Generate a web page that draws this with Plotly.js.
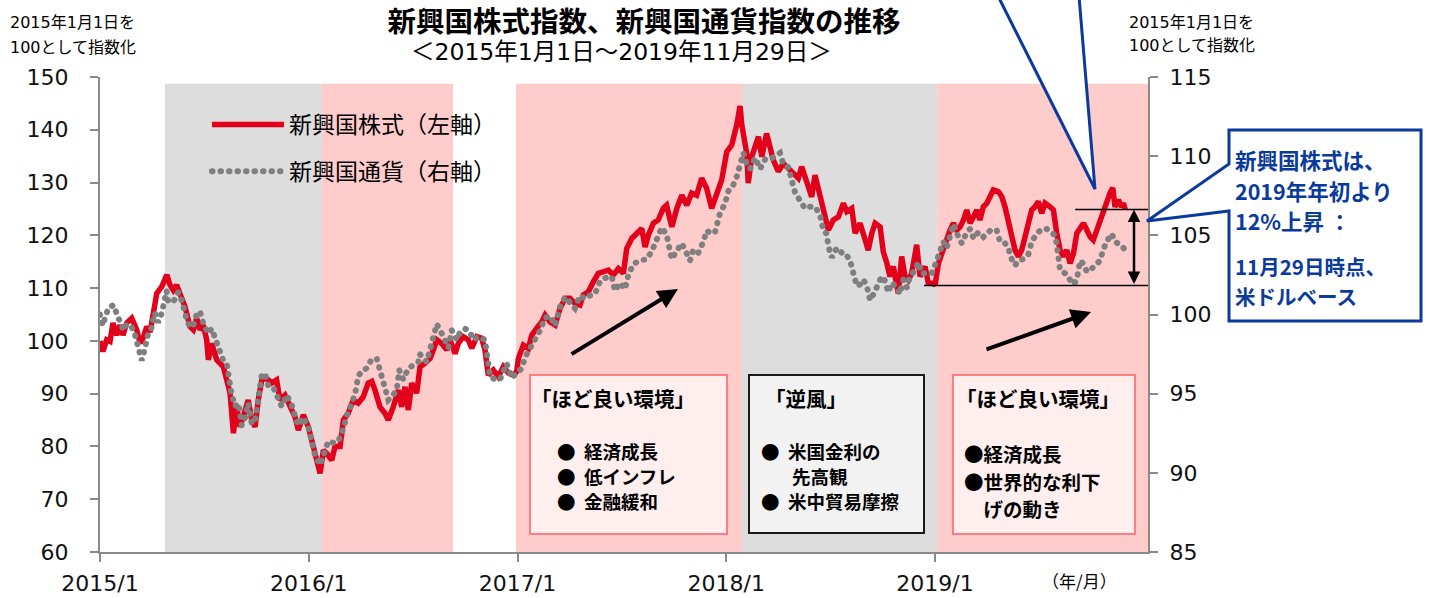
<!DOCTYPE html>
<html>
<head>
<meta charset="utf-8">
<script src="https://cdn.plot.ly/plotly-3.0.1.min.js"></script>
<style>
  html, body { margin: 0; padding: 0; background: #fff; }
  #chart { width: 1431px; height: 598px; }
</style>
</head>
<body>
<div id="chart"></div>
<script>
// ---------------- DATA ----------------
// time in decimal years (2015.0 = 2015/1/1)
const equityT = [
 2015.000,2015.014,2015.032,2015.048,2015.062,2015.080,2015.096,2015.110,2015.128,2015.152,
 2015.176,2015.192,2015.206,2015.224,2015.240,2015.255,2015.272,2015.296,2015.320,2015.335,
 2015.351,2015.367,2015.391,2015.407,2015.431,2015.447,2015.463,2015.479,2015.495,2015.511,
 2015.519,2015.535,2015.559,2015.575,2015.591,2015.607,2015.623,2015.639,2015.655,2015.671,
 2015.686,2015.710,2015.727,2015.743,2015.758,2015.775,2015.798,2015.823,2015.846,2015.862,
 2015.886,2015.910,2015.934,2015.950,2015.974,2015.998,2016.014,2016.030,2016.054,2016.070,
 2016.086,2016.110,2016.126,2016.150,2016.166,2016.189,2016.213,2016.237,2016.261,2016.285,
 2016.302,2016.317,2016.341,2016.365,2016.381,2016.405,2016.429,2016.445,2016.461,2016.477,
 2016.493,2016.517,2016.533,2016.557,2016.581,2016.597,2016.613,2016.637,2016.661,2016.677,
 2016.701,2016.716,2016.740,2016.764,2016.781,2016.805,2016.828,2016.844,2016.860,2016.884,
 2016.908,2016.932,2016.956,2016.980,2016.996,2017.004,2017.028,2017.052,2017.068,2017.092,
 2017.116,2017.132,2017.156,2017.180,2017.204,2017.228,2017.251,2017.275,2017.299,2017.315,
 2017.339,2017.363,2017.387,2017.411,2017.435,2017.459,2017.483,2017.507,2017.523,2017.547,
 2017.571,2017.595,2017.611,2017.627,2017.651,2017.674,2017.698,2017.714,2017.739,2017.763,
 2017.787,2017.811,2017.834,2017.858,2017.882,2017.906,2017.930,2017.954,2017.978,2018.002,
 2018.026,2018.050,2018.066,2018.074,2018.098,2018.105,2018.122,2018.138,2018.154,2018.170,
 2018.193,2018.209,2018.225,2018.249,2018.273,2018.297,2018.321,2018.345,2018.361,2018.385,
 2018.409,2018.425,2018.441,2018.465,2018.489,2018.513,2018.537,2018.561,2018.577,2018.601,
 2018.617,2018.641,2018.665,2018.680,2018.697,2018.713,2018.737,2018.752,2018.769,2018.784,
 2018.800,2018.824,2018.840,2018.856,2018.872,2018.888,2018.912,2018.928,2018.952,2018.968,
 2018.992,2019.000,2019.016,2019.032,2019.056,2019.072,2019.088,2019.104,2019.120,2019.136,
 2019.152,2019.168,2019.184,2019.200,2019.215,2019.231,2019.248,2019.263,2019.279,2019.303,
 2019.320,2019.335,2019.359,2019.383,2019.399,2019.415,2019.431,2019.447,2019.463,2019.479,
 2019.495,2019.511,2019.527,2019.551,2019.567,2019.583,2019.599,2019.615,2019.631,2019.647,
 2019.663,2019.679,2019.695,2019.711,2019.727,2019.743,2019.758,2019.774,2019.790,2019.806,
 2019.822,2019.838,2019.851,2019.862,2019.878,2019.894,2019.902,2019.911
];
const equityV = [
 100.0,98.0,100.2,99.9,103.4,101.1,103.0,101.1,103.4,104.3,
 102.1,99.6,100.5,102.7,101.7,104.6,109.0,110.3,112.5,110.6,
 109.6,110.6,107.7,106.5,102.7,102.1,104.3,102.1,103.0,100.2,
 96.4,99.5,96.4,95.8,95.1,92.6,90.1,82.5,87.5,83.7,
 85.6,88.8,85.0,83.7,88.8,92.6,92.9,92.0,92.6,88.8,
 89.7,87.5,85.6,83.1,86.0,83.7,81.2,78.1,74.9,79.3,
 78.7,77.4,80.0,80.0,85.0,86.3,88.8,88.2,89.4,92.0,
 92.3,90.7,87.5,86.3,85.0,87.5,90.7,87.5,91.3,86.9,
 92.0,90.1,95.1,95.8,96.7,98.3,100.2,99.5,98.3,100.2,
 97.6,99.5,100.8,100.2,98.6,100.8,100.5,98.3,93.5,94.5,
 93.2,95.1,93.9,93.5,94.2,96.7,99.2,98.6,101.1,102.4,
 103.6,104.9,103.6,103.0,106.2,108.1,108.1,107.1,106.8,108.7,
 109.3,111.2,112.8,113.1,113.4,112.5,113.7,112.8,117.5,119.4,
 120.4,121.3,117.8,120.1,122.3,122.9,125.1,125.7,121.6,125.1,
 127.6,125.7,128.0,127.6,130.8,128.9,125.1,127.6,130.5,135.8,
 137.1,140.9,144.5,141.0,135.5,129.9,134.9,136.8,138.7,134.9,
 139.3,136.8,134.3,132.1,133.6,132.7,131.7,130.8,133.0,129.9,
 127.3,131.4,128.6,125.4,121.0,122.9,123.5,126.1,124.5,125.1,
 120.4,122.3,119.1,117.2,120.4,122.3,121.6,116.9,114.7,112.2,
 114.1,109.0,116.0,112.2,111.5,112.8,118.2,112.2,114.1,110.9,
 110.9,110.5,114.7,116.6,119.1,121.0,122.3,121.0,121.6,122.9,
 124.8,122.3,123.5,124.8,122.9,125.4,126.1,127.6,128.6,128.3,
 127.3,125.4,121.0,117.2,116.0,117.2,119.7,122.9,124.8,125.4,
 126.4,124.2,126.1,125.4,124.8,120.4,117.2,116.0,117.2,114.7,
 116.6,120.4,121.6,122.3,121.0,119.7,119.1,121.0,122.9,124.8,
 126.1,128.0,129.0,125.4,126.7,125.4,126.1,124.9
];

const currencyT = [
 2015.000,2015.014,2015.024,2015.040,2015.064,2015.080,2015.096,2015.112,2015.128,2015.152,
 2015.168,2015.183,2015.200,2015.216,2015.231,2015.248,2015.263,2015.279,2015.296,2015.319,
 2015.327,2015.351,2015.375,2015.391,2015.399,2015.415,2015.431,2015.447,2015.463,2015.479,
 2015.495,2015.519,2015.535,2015.551,2015.567,2015.590,2015.607,2015.614,2015.630,2015.647,
 2015.663,2015.679,2015.695,2015.710,2015.727,2015.743,2015.758,2015.774,2015.790,2015.806,
 2015.830,2015.846,2015.870,2015.894,2015.918,2015.934,2015.950,2015.974,2015.998,2016.014,
 2016.030,2016.054,2016.070,2016.094,2016.118,2016.142,2016.166,2016.182,2016.206,2016.222,
 2016.237,2016.253,2016.277,2016.302,2016.326,2016.341,2016.365,2016.381,2016.397,2016.421,
 2016.433,2016.453,2016.477,2016.501,2016.525,2016.532,2016.565,2016.581,2016.597,2016.613,
 2016.645,2016.669,2016.685,2016.709,2016.725,2016.749,2016.772,2016.788,2016.812,2016.844,
 2016.860,2016.868,2016.892,2016.916,2016.932,2016.948,2016.972,2016.996,2017.020,2017.036,
 2017.060,2017.084,2017.108,2017.132,2017.156,2017.180,2017.204,2017.228,2017.251,2017.275,
 2017.299,2017.323,2017.347,2017.371,2017.395,2017.419,2017.451,2017.467,2017.491,2017.515,
 2017.531,2017.555,2017.587,2017.619,2017.643,2017.667,2017.691,2017.715,2017.738,2017.762,
 2017.786,2017.802,2017.826,2017.842,2017.866,2017.890,2017.906,2017.930,2017.946,2017.970,
 2017.994,2018.010,2018.034,2018.050,2018.066,2018.082,2018.098,2018.114,2018.138,2018.162,
 2018.186,2018.210,2018.234,2018.257,2018.273,2018.297,2018.313,2018.329,2018.353,2018.377,
 2018.401,2018.425,2018.449,2018.465,2018.481,2018.489,2018.505,2018.529,2018.553,2018.569,
 2018.593,2018.609,2018.625,2018.641,2018.657,2018.673,2018.689,2018.713,2018.737,2018.753,
 2018.776,2018.793,2018.816,2018.832,2018.848,2018.865,2018.880,2018.904,2018.920,2018.936,
 2018.960,2018.984,2019.008,2019.024,2019.040,2019.056,2019.072,2019.088,2019.112,2019.128,
 2019.152,2019.168,2019.184,2019.208,2019.232,2019.248,2019.272,2019.296,2019.311,2019.335,
 2019.351,2019.367,2019.383,2019.399,2019.423,2019.447,2019.463,2019.487,2019.511,2019.535,
 2019.559,2019.575,2019.583,2019.591,2019.599,2019.623,2019.647,2019.663,2019.679,2019.695,
 2019.711,2019.727,2019.743,2019.759,2019.775,2019.790,2019.806,2019.822,2019.846,2019.862,
 2019.886,2019.910
];
const currencyV = [
 100.0,99.3,99.8,100.4,100.6,100.0,99.5,99.0,99.4,99.2,
 98.7,97.9,97.1,97.9,98.8,99.2,100.1,99.5,100.1,101.5,
 100.8,100.8,101.4,100.9,100.4,99.7,99.2,99.3,100.0,100.2,
 99.4,98.8,99.1,98.5,97.8,97.1,96.9,96.1,95.0,94.2,
 94.4,93.0,93.5,94.4,93.1,93.3,94.8,96.1,96.3,95.5,
 95.4,95.0,94.2,94.9,94.3,93.6,93.0,93.5,92.9,92.0,
 91.1,90.5,91.1,92.0,91.9,92.0,92.8,93.6,94.4,95.0,
 96.1,96.4,96.6,97.2,97.2,96.4,95.4,94.6,94.8,95.2,
 96.5,95.9,96.6,96.8,97.0,97.5,97.0,97.8,98.6,99.4,
 98.6,97.9,99.0,98.4,98.9,99.1,98.9,98.4,98.6,98.4,
 96.9,96.1,95.9,95.9,96.4,96.9,96.0,96.3,96.6,97.3,
 97.9,98.3,99.0,99.8,99.9,99.3,100.5,101.1,100.8,100.4,
 101.2,101.0,101.2,101.3,102.1,102.3,102.4,101.5,102.0,101.6,
 102.5,103.2,103.4,103.5,104.0,104.7,105.5,105.0,103.5,104.0,
 104.5,104.1,103.4,104.1,103.9,104.6,105.3,105.1,105.2,106.4,
 107.0,107.8,108.2,108.7,109.4,110.2,109.5,109.2,109.9,109.2,
 109.8,109.8,110.0,110.2,109.5,109.3,108.5,107.7,107.2,106.7,
 106.8,106.8,106.3,105.3,105.1,104.3,103.6,104.2,103.9,103.9,
 103.4,102.6,101.8,101.9,102.2,101.8,100.9,101.5,102.2,102.4,
 101.4,102.0,101.7,101.3,102.2,101.7,102.4,102.8,103.3,102.6,
 102.6,102.6,103.4,104.1,104.6,104.2,105.1,105.7,104.9,104.5,
 105.2,105.4,104.8,105.2,104.9,105.1,105.4,105.3,104.6,104.5,
 104.2,103.5,103.1,103.4,103.5,103.8,104.6,105.1,105.4,105.4,
 105.2,105.0,104.4,103.5,102.8,102.6,102.1,101.9,102.2,103.4,
 103.2,102.7,102.8,103.0,103.3,103.4,104.1,104.6,105.1,104.6,
 104.4,104.1
];

// background periods: "good" = ほど良い環境 (pink), "headwind" = 逆風 (grey)
const periodStart = [2015.311, 2016.063, 2016.993, 2018.075, 2019.010];
const periodEnd   = [2016.063, 2016.691, 2018.075, 2019.010, 2020.020];
const periodKind  = ['headwind', 'good', 'good', 'headwind', 'good'];

const xTickVals  = [2015, 2016, 2017, 2018, 2019];
const xTickText  = ['2015/1', '2016/1', '2017/1', '2018/1', '2019/1'];
const seriesNames = ['新興国株式（左軸）', '新興国通貨（右軸）'];

// ---------------- LAYOUT HELPERS ----------------
const L = 100, R = 1148, T = 77, B = 552;
const PX = x => (x - L) / (R - L);
const PY = y => (B - y) / (B - T);
const JP = '"Noto Sans CJK JP", sans-serif';
const MIX = '"DejaVu Sans", "Noto Sans CJK JP", sans-serif';

const RED = '#E2001A';
const GREY = '#7F7F7F';
const BLUE = '#0A3A9C';

function txt(text, x, y, size, opt) {
  opt = opt || {};
  return {
    xref: 'paper', yref: 'paper', x: PX(x), y: PY(y),
    xanchor: opt.xanchor || 'left', yanchor: opt.yanchor || 'middle',
    text: text, showarrow: false, align: opt.align || 'left',
    font: { family: opt.family || JP, size: size, color: opt.color || '#000' }
  };
}
// multi-line block: glyph size `size`, line pitch `pitch` (px); y = centre of first line
function block(lines, x, y, size, pitch, color) {
  const base = pitch / 1.3;
  const text = lines.map(s => '<span style="font-size:' + size + 'px"><b>' + s + '</b></span>').join('<br>');
  return {
    xref: 'paper', yref: 'paper', x: PX(x), y: PY(y - base * 0.65), xanchor: 'left', yanchor: 'top',
    text: text, showarrow: false, align: 'left',
    font: { family: JP, size: base, color: color || '#000' }
  };
}

// ---------------- TRACES ----------------
const traces = [
  { x: equityT, y: equityV, type: 'scatter', mode: 'lines', name: seriesNames[0],
    line: { color: RED, width: 5.5 }, yaxis: 'y', legendgroup: 'a' },
  { x: currencyT, y: currencyV, type: 'scatter', mode: 'lines', name: seriesNames[1],
    line: { color: GREY, width: 6, dash: '0.5px,8px' }, yaxis: 'y2', legendgroup: 'b' }
];

// ---------------- SHAPES ----------------
const shapes = [];
periodStart.forEach((s, i) => {
  shapes.push({ type: 'rect', xref: 'x', yref: 'y', x0: s, x1: periodEnd[i], y0: 60, y1: 148.7,
    fillcolor: periodKind[i] === 'good' ? '#FFCCCC' : '#DDDDDD', line: { width: 0 }, layer: 'below' });
});

// reference lines for the 2019 performance
const startIdx = equityT.findIndex(t => t >= 2019);
const baseVal = equityV[startIdx];
const lastVal = equityV[equityV.length - 1];
shapes.push({ type: 'line', xref: 'x', yref: 'y', x0: 2018.947, x1: 2020.02, y0: baseVal, y1: baseVal,
  line: { color: '#000', width: 1.5 } });
shapes.push({ type: 'line', xref: 'x', yref: 'y', x0: 2019.671, x1: 2020.02, y0: lastVal, y1: lastVal,
  line: { color: '#000', width: 1.5 } });

// comment boxes
function rect(x0, y0, x1, y1, fill, border) {
  return { type: 'rect', xref: 'paper', yref: 'paper', x0: PX(x0), x1: PX(x1), y0: PY(y1), y1: PY(y0),
    fillcolor: fill, line: { color: border, width: 2 } };
}
shapes.push(rect(530, 375, 727, 534, '#FFEEEE', '#FF7C80'));
shapes.push(rect(749, 375, 924, 533, '#F2F2F2', '#1A1A1A'));
shapes.push(rect(953, 375, 1135, 534, '#FFEEEE', '#FF7C80'));

// callouts
function path(pts) {
  return 'M ' + pts.map(p => PX(p[0]).toFixed(5) + ',' + PY(p[1]).toFixed(5)).join(' L ') + ' Z';
}
shapes.push({ type: 'path', xref: 'paper', yref: 'paper',
  path: path([[998, -4], [1095, 189], [1079, -4]]), fillcolor: '#FFFFFF', line: { color: BLUE, width: 3 } });
shapes.push({ type: 'path', xref: 'paper', yref: 'paper',
  path: path([[1229, 130], [1421, 130], [1421, 321], [1229, 321], [1229, 211], [1147, 221], [1229, 164]]),
  fillcolor: '#FFFFFF', line: { color: BLUE, width: 3 } });

// ---------------- ANNOTATIONS ----------------
const ann = [];
ann.push(txt('＜2015年1月1日～2019年11月29日＞', 621, 52, 23.5, { xanchor: 'center', family: MIX }));
ann.push(txt('2015年1月1日を', 8, 23, 16, { family: MIX }));
ann.push(txt('100として指数化', 8, 47, 16, { family: MIX }));
ann.push(txt('2015年1月1日を', 1127, 23, 16, { family: MIX }));
ann.push(txt('100として指数化', 1127, 46, 16, { family: MIX }));
ann.push(txt('（年/月）', 1040, 580, 17));

// box 1
ann.push(txt('<b>「ほど良い環境」</b>', 529, 398, 20.5));
ann.push(block(['●  経済成長', '●  低インフレ', '●  金融緩和'], 555, 448, 18.5, 25));
// box 2
ann.push(txt('<b>「逆風」</b>', 763, 398, 20.5));
ann.push(block(['●  米国金利の', '　&nbsp;&nbsp;&nbsp;先高観', '●  米中貿易摩擦'], 759, 448, 18.5, 25));
// box 3
ann.push(txt('<b>「ほど良い環境」</b>', 954, 398, 20.5));
ann.push(block(['●経済成長', '●世界的な利下', '　げの動き'], 962, 451, 19.5, 27.5));
// blue callout text
ann.push(block(['新興国株式は、', '2019年年初より', '12%上昇 ：'], 1233, 157, 21.5, 30.5, BLUE));
ann.push(block(['11月29日時点、', '米ドルベース'], 1233, 264, 20.5, 30, BLUE));

// arrows
ann.push({ xref: 'paper', yref: 'paper', x: PX(678), y: PY(289), ax: -108, ay: 66, axref: 'pixel', ayref: 'pixel',
  text: '', showarrow: true, arrowhead: 2, arrowsize: 1, arrowwidth: 4, arrowcolor: '#000' });
ann.push({ xref: 'paper', yref: 'paper', x: PX(1091), y: PY(312), ax: -106, ay: 38, axref: 'pixel', ayref: 'pixel',
  text: '', showarrow: true, arrowhead: 2, arrowsize: 1, arrowwidth: 4, arrowcolor: '#000' });
ann.push({ xref: 'x', yref: 'y', x: 2019.953, y: lastVal, ax: 2019.953, ay: baseVal, axref: 'x', ayref: 'y',
  text: '', showarrow: true, arrowhead: 2, arrowside: 'end+start', arrowsize: 1, arrowwidth: 2.5, arrowcolor: '#000',
  standoff: 0, startstandoff: 0 });

// ---------------- LAYOUT ----------------
const axisLine = '#8A8A8A';
const tickFont = { family: MIX, size: 22, color: '#111' };
const layout = {
  width: 1431, height: 598,
  margin: { l: L, r: 1431 - R, t: T, b: 598 - B, pad: 0 },
  paper_bgcolor: '#FFFFFF', plot_bgcolor: 'rgba(0,0,0,0)',
  title: { text: '<b>新興国株式指数、新興国通貨指数の推移</b>', x: 644 / 1431, xanchor: 'center',
    xref: 'container', y: 1 - 22 / 598, yanchor: 'middle', yref: 'container',
    font: { family: JP, size: 28.5, color: '#000' } },
  showlegend: true,
  legend: { x: PX(207), y: PY(103), xanchor: 'left', yanchor: 'top', bgcolor: 'rgba(0,0,0,0)',
    font: { family: JP, size: 23, color: '#000' }, itemwidth: 72, traceorder: 'grouped', tracegroupgap: 14 },
  xaxis: { range: [2015, 2020.02], tickvals: xTickVals, ticktext: xTickText, showgrid: false, zeroline: false,
    showline: true, linecolor: axisLine, linewidth: 2, ticks: 'outside', ticklen: 8, tickwidth: 2, tickcolor: axisLine,
    ticklabelstandoff: 3, tickfont: tickFont },
  yaxis: { range: [60, 150], dtick: 10, showgrid: false, zeroline: false,
    showline: true, linecolor: axisLine, linewidth: 2, ticks: 'outside', ticklen: 8, tickwidth: 2, tickcolor: axisLine,
    ticklabelstandoff: 17, tickfont: tickFont },
  yaxis2: { range: [85, 115], dtick: 5, overlaying: 'y', side: 'right', showgrid: false, zeroline: false,
    showline: true, linecolor: axisLine, linewidth: 2, ticks: 'outside', ticklen: 8, tickwidth: 2, tickcolor: axisLine,
    ticklabelstandoff: 7, tickfont: tickFont },
  shapes: shapes,
  annotations: ann
};

Plotly.newPlot('chart', traces, layout, { staticPlot: true, displayModeBar: false }).then(gd => {
  gd.querySelectorAll('path.js-line').forEach(p => {
    const s = p.style.stroke || '';
    if (s.replace(/\s/g, '') === 'rgb(127,127,127)') p.style.strokeLinecap = 'round';
  });
});
</script>
</body>
</html>
